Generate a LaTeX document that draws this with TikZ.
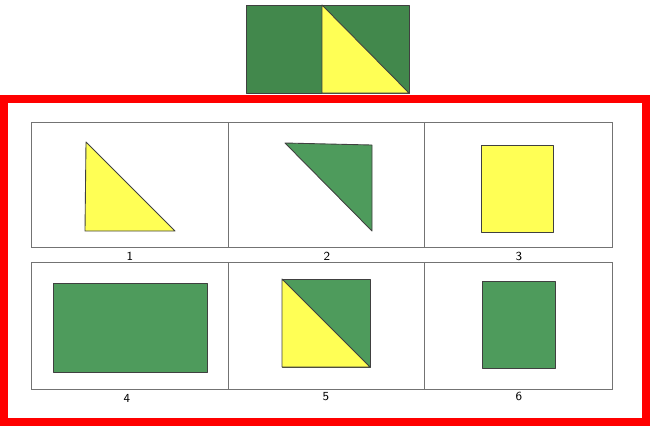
\documentclass[tikz,border=0pt]{standalone}
\usetikzlibrary{positioning}
\definecolor{leafgreen}{RGB}{78,155,92}
\definecolor{topgreen}{RGB}{66,136,76}
\definecolor{lemon}{RGB}{255,255,85}
\tikzset{
  cellbox/.style={draw=black!55, line width=0.5pt},
  piece/.style={draw=black!75, line width=0.5pt, line join=round},
  numlabel/.style={font=\sffamily\fontsize{7}{8}\selectfont, inner sep=1pt}
}
\begin{document}
\begin{tikzpicture}[x=0.02cm, y=-0.02cm]
    \useasboundingbox (0,0) rectangle (651,427);

    % Question figure
    \draw[piece, fill=topgreen] (246,5) rectangle (322,93);
    \draw[piece, fill=topgreen] (322,5) rectangle (409,93);
    \draw[piece, fill=lemon] (322,5) -- (322,93) -- (409,93) -- cycle;

    % Answer frame
    \draw[red, line width=4.5pt] (4,99) rectangle (646,422);

    % Cells
    \foreach \top/\bot in {122/247, 262/389} {
      \draw[cellbox] (31,\top) rectangle (612,\bot);
      \draw[cellbox] (228,\top) -- (228,\bot);
      \draw[cellbox] (424,\top) -- (424,\bot);
    }

    % Option 1
    \draw[piece, fill=lemon] (86,142) -- (85,231) -- (175,231) -- cycle;
    % Option 2
    \draw[piece, fill=leafgreen] (285,143) -- (372,145) -- (372,231) -- cycle;
    % Option 3
    \draw[piece, fill=lemon] (481,145) rectangle (553,232);
    % Option 4
    \draw[piece, fill=leafgreen] (53,283) rectangle (207,372);
    % Option 5
    \draw[piece, fill=leafgreen] (282,279) rectangle (370,367);
    \draw[piece, fill=lemon] (282,279) -- (282,367) -- (370,367) -- cycle;
    % Option 6
    \draw[piece, fill=leafgreen] (482,281) rectangle (555,368);

    % Numbers
    \node[numlabel] (one) at (130,256) {1};
    \node[numlabel] (two) at (327,256) {2};
    \node[numlabel] (three) at (519,256) {3};
    \node[numlabel] (four) at (127,398) {4};
    \node[numlabel] (five) at (326,397) {5};
    \node[numlabel] (six) at (519,396) {6};
\end{tikzpicture}
\end{document}
